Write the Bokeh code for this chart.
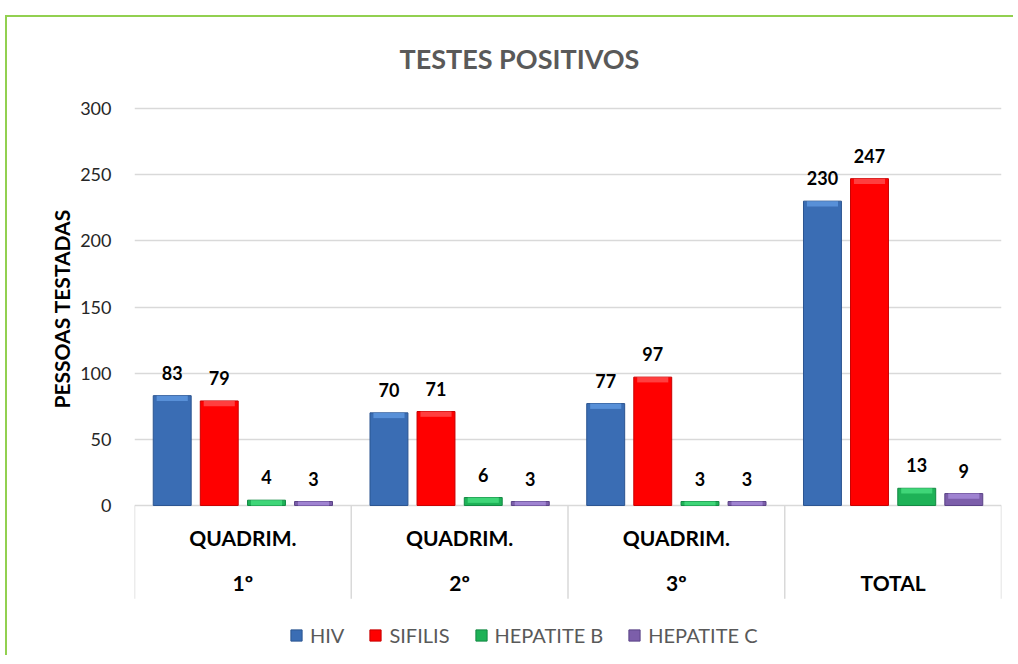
from bokeh.plotting import figure
from bokeh.models import ColumnDataSource, FactorRange, FixedTicker, Range1d, Legend, LegendItem, Title
from bokeh.transform import dodge
from bokeh.core.properties import value
from bokeh.embed import file_html
from bokeh.resources import INLINE

# ---- data ----
periods = ["1º", "2º", "3º", "TOTAL"]
period_top = ["QUADRIM.", "QUADRIM.", "QUADRIM.", ""]
hiv = [83, 70, 77, 230]
sifilis = [79, 71, 97, 247]
hep_b = [4, 6, 3, 13]
hep_c = [3, 3, 3, 9]
series_names = ["HIV", "SIFILIS", "HEPATITE B", "HEPATITE C"]
y_ticks = [0, 50, 100, 150, 200, 250, 300]
chart_title = "TESTES POSITIVOS"
y_title = "PESSOAS TESTADAS"

# ---- style ----
FONT = "Lato"
fills = ["#3A6DB4", "#FF0000", "#1EB257", "#7C5EAA"]
edges = ["#2B5490", "#C80000", "#138843", "#5A4286"]
tops = ["#5E97DE", "#FF4A4A", "#45DC7E", "#A68AD8"]
offsets = [-0.326, -0.109, 0.109, 0.326]
BAR_W = 0.175
Y_MIN = -114.9
Y_MAX = 368.8
BEVEL = 4.0

keys = ["hiv", "sif", "hepb", "hepc"]
data = dict(period=periods, top=period_top)
for k, vals in zip(keys, [hiv, sifilis, hep_b, hep_c]):
    data[k] = vals
    data[k + "_bev"] = [max(v - BEVEL, 0) for v in vals]
    data[k + "_lbl"] = [str(v) for v in vals]
src = ColumnDataSource(data)

p = figure(
    x_range=FactorRange(factors=periods),
    y_range=Range1d(Y_MIN, Y_MAX),
    width=1008, height=640,
    output_backend="svg", toolbar_location=None,
    min_border_left=127, min_border_right=14, min_border_top=0, min_border_bottom=0,
)
p.margin = (15, 0, 0, 5)
p.styles = {"border-top": "2px solid #92D050", "border-left": "2px solid #92D050"}
p.outline_line_color = None
p.background_fill_color = "white"
p.border_fill_color = "white"

p.xaxis.visible = False
p.xgrid.visible = False

ax = p.yaxis[0]
ax.ticker = FixedTicker(ticks=y_ticks)
ax.axis_line_color = None
ax.major_tick_line_color = None
ax.minor_tick_line_color = None
ax.major_tick_out = 0
ax.major_tick_in = 0
ax.major_label_standoff = 23
ax.major_label_text_font = FONT
ax.major_label_text_font_size = "18px"
ax.major_label_text_color = "#262626"

ytitle = Title(text=y_title, align="left", offset=249, standoff=7,
               text_font=FONT, text_font_size="21px", text_font_style="bold",
               text_color="black")
p.add_layout(ytitle, "left")

p.ygrid.grid_line_color = "#D9D9D9"
p.ygrid.grid_line_width = 1.5

# chart title (drawn inside the frame, above the 300 gridline)
p.text(x=dodge("f", 0.276, range=p.x_range), y=337.8, text="t",
       source=ColumnDataSource(dict(f=[periods[1]], t=[chart_title])),
       text_font=value(FONT), text_font_size="27px", text_font_style="bold",
       text_color="#595959", text_align="center", text_baseline="middle")

# category box separators
p.segment(x0=dodge("period", -0.5, range=p.x_range), y0=0,
          x1=dodge("period", -0.5, range=p.x_range), y1=-70.5,
          source=src, line_color="#D9D9D9", line_width=1.5)
p.segment(x0=dodge("period", 0.5, range=p.x_range), y0=0,
          x1=dodge("period", 0.5, range=p.x_range), y1=-70.5,
          source=ColumnDataSource(dict(period=[periods[-1]])),
          line_color="#D9D9D9", line_width=1.5)

# category labels
cat_kw = dict(text_font=value(FONT), text_font_size="21px", text_font_style="bold",
              text_color="black", text_align="center", text_baseline="middle")
p.text(x="period", y=-24.2, text="top", source=src, **cat_kw)
p.text(x="period", y=-58.2, text="period", source=src, **cat_kw)

lbl_kw = dict(text_font=value(FONT), text_font_size="18px", text_font_style="bold",
              text_color="black", text_align="center", text_baseline="middle")

items = []
for k, name, off, fc, ec, tc in zip(keys, series_names, offsets, fills, edges, tops):
    xs = dodge("period", off, range=p.x_range)
    r = p.vbar(x=xs, top=k, bottom=0, width=BAR_W,
               source=src, fill_color=fc, line_color=ec, line_width=1)
    p.vbar(x=xs, top=k, bottom=k + "_bev", width=BAR_W * 0.82,
           source=src, fill_color=tc, line_color=None, fill_alpha=0.85)
    p.text(x=xs, y=k, text=k + "_lbl", source=src, y_offset=-23, **lbl_kw)
    items.append(LegendItem(label=name, renderers=[r]))

legend = Legend(items=items, orientation="horizontal", location=(155, 10),
                glyph_width=14, glyph_height=14, label_standoff=7, spacing=24,
                label_text_font=FONT, label_text_font_size="20px", label_text_color="#595959",
                border_line_color=None, background_fill_alpha=0, padding=0, margin=0)
p.add_layout(legend, "center")

open("out.html", "w").write(file_html(p, INLINE))
